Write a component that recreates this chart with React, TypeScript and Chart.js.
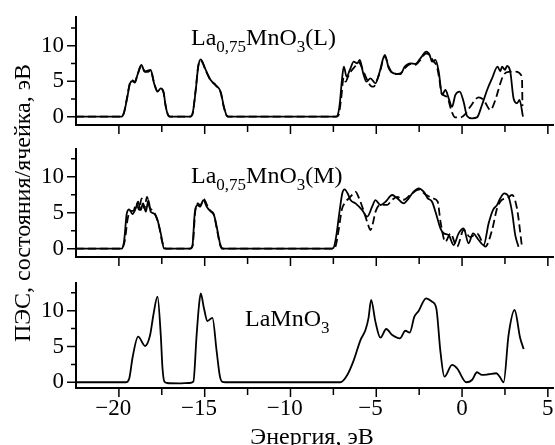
import React, { useEffect, useRef } from "react";
import { Chart, registerables } from "chart.js";
Chart.register(...registerables);

const FONT = "'Liberation Serif', 'Times New Roman', serif";

// ---- axes ----
const xMin = -22.5;
const xMax = 5.3;
const xMajorTicks = [-20, -15, -10, -5, 0, 5];
const xAllTicks = [-20, -17.5, -15, -12.5, -10, -7.5, -5, -2.5, 0, 2.5, 5];
const yMajorTicks = [0, 5, 10];
const yAllTicks = [0, 2.5, 5, 7.5, 10, 12.5];

// ---- panel 1: La0,75MnO3(L) ----
const lSolidE = [-22.5, -19.85, -19.7, -19.54, -19.35, -19.21, -19.07, -18.92, -18.69, -18.49, -18.34, -18.15, -17.95, -17.75, -17.56, -17.4, -17.27, -17.1, -16.95,
  -15.85, -15.72, -15.52, -15.38, -15.23, -14.94, -14.65, -14.36, -14.07, -13.88, -13.7, -13.55,
  -7.35, -7.25, -7.12, -7.0, -6.89, -6.73, -6.54, -6.31, -6.11, -5.96, -5.76, -5.57, -5.34, -5.05, -4.8, -4.5, -4.27, -3.98, -3.59, -3.34, -3.01, -2.72, -2.43, -2.08, -1.89, -1.75, -1.55, -1.36, -1.16, -0.97, -0.78, -0.58, -0.39, -0.14, 0.09, 0.29, 0.58, 0.87, 1.16, 1.46, 1.75, 2.07, 2.23, 2.33, 2.5, 2.62, 2.81, 3.0, 3.2, 3.35, 3.55];
const lSolidV = [0, 0, 0.6, 2.35, 4.7, 5.03, 4.8, 5.87, 7.28, 6.34, 6.48, 6.58, 4.7, 3.52, 4.0, 3.52, 1.41, 0.1, 0,
  0, 0.3, 3.76, 7.0, 8.08, 6.58, 5.17, 4.46, 3.52, 1.41, 0.1, 0,
  0, 0.2, 2.0, 5.2, 7.04, 5.63, 6.58, 7.75, 7.52, 7.99, 6.1, 4.93, 5.4, 4.7, 6.34, 8.69, 6.81, 6.1, 6.0, 7.04, 7.52, 7.42, 8.22, 9.15, 8.69, 7.75, 7.99, 6.34, 3.06, 3.76, 2.59, 1.41, 3.06, 3.52, 2.11, 0.1, -0.23, -0.1, 1.65, 3.76, 5.4, 7.04, 6.4, 7.04, 6.6, 7.14, 6.34, 2.59, 1.89, 2.35, 0];
const lDashE = [-22.5, -19.85, -19.7, -19.54, -19.35, -19.21, -19.07, -18.92, -18.7, -18.5, -18.34, -18.15, -17.95, -17.75, -17.56, -17.4, -17.27, -17.1, -16.95,
  -15.85, -15.72, -15.52, -15.38, -15.23, -14.94, -14.65, -14.36, -14.07, -13.88, -13.7, -13.55,
  -7.35, -7.2, -7.05, -6.9, -6.79, -6.65, -6.5, -6.3, -6.0, -5.82, -5.53, -5.3, -5.15, -4.95, -4.8, -4.5, -4.27, -3.98, -3.59, -3.34, -3.01, -2.72, -2.43, -2.1, -1.89, -1.7, -1.46, -1.3, -1.2, -0.88, -0.6, -0.4, -0.1, 0.2, 0.48, 0.97, 1.26, 1.65, 1.94, 2.23, 2.42, 2.7, 3.1, 3.49, 3.52];
const lDashV = [0, 0, 0.6, 2.5, 4.8, 5.1, 4.9, 5.9, 7.1, 6.4, 6.3, 6.5, 4.8, 3.6, 3.9, 3.4, 1.5, 0.1, 0,
  0, 0.3, 3.9, 7.1, 7.9, 6.5, 5.1, 4.4, 3.4, 1.3, 0.1, 0,
  0, 0.2, 2.5, 5.5, 4.93, 5.6, 6.3, 6.9, 7.6, 6.81, 5.17, 4.3, 4.23, 5.2, 6.2, 8.5, 7.0, 6.0, 6.1, 6.8, 7.4, 7.3, 8.0, 8.9, 8.7, 7.9, 7.0, 4.9, 3.3, 2.8, 0.7, -0.1, -0.1, 0.4, 1.41, 2.73, 2.35, 0.94, 2.35, 4.7, 5.87, 6.3, 6.34, 5.63, 1.5];

// ---- panel 2: La0,75MnO3(M) ----
const mSolidE = [-22.5, -19.85, -19.7, -19.54, -19.4, -19.21, -19.02, -18.88, -18.73, -18.59, -18.43, -18.28, -18.15, -17.95, -17.75, -17.56, -17.37, -17.2,
  -15.85, -15.72, -15.58, -15.42, -15.27, -15.08, -14.88, -14.69, -14.49, -14.3, -14.11, -13.98, -13.8,
  -7.7, -7.5, -7.35, -7.15, -6.98, -6.85, -6.65, -6.5, -6.21, -5.82, -5.53, -5.24, -5.05, -4.76, -4.46, -4.07, -3.78, -3.4, -3.11, -2.82, -2.53, -2.24, -2.0, -1.75, -1.55, -1.26, -1.07, -0.78, -0.49, -0.2, 0.09, 0.38, 0.64, 0.97, 1.26, 1.55, 1.8, 2.04, 2.23, 2.46, 2.71, 2.91, 3.1, 3.29];
const mSolidV = [0, 0, 1.0, 4.9, 5.47, 4.82, 5.6, 6.53, 5.37, 6.3, 5.14, 6.76, 5.14, 4.9, 3.99, 2.13, 0.05, 0,
  0, 0.3, 4.9, 6.07, 5.84, 6.76, 5.84, 5.28, 4.9, 3.06, 0.75, 0.05, 0,
  0, 0.1, 1.5, 5.0, 7.7, 8.25, 7.6, 6.76, 6.3, 5.37, 4.45, 5.84, 6.76, 6.07, 6.53, 7.46, 7.0, 6.3, 7.0, 7.92, 8.38, 7.92, 7.0, 6.53, 5.14, 2.83, 2.13, 1.9, 0.51, 2.13, 2.83, 0.75, 2.13, 1.21, 0.51, 3.53, 5.37, 6.07, 7.0, 7.69, 7.22, 5.14, 1.9, 0.28];
const mDashE = [-22.5, -19.85, -19.65, -19.5, -19.35, -19.15, -18.98, -18.82, -18.68, -18.52, -18.36, -18.22, -18.05, -17.85, -17.65, -17.48, -17.3, -17.15,
  -15.85, -15.7, -15.55, -15.4, -15.25, -15.05, -14.85, -14.65, -14.45, -14.28, -14.1, -13.95, -13.8,
  -7.6, -7.4, -7.2, -7.0, -6.85, -6.6, -6.35, -6.21, -6.0, -5.7, -5.5, -5.34, -5.2, -5.05, -4.76, -4.36, -4.07, -3.78, -3.4, -3.0, -2.53, -2.1, -1.7, -1.42, -1.26, -0.97, -0.68, -0.29, 0.09, 0.48, 0.87, 1.36, 1.75, 2.04, 2.33, 2.62, 2.91, 3.2, 3.49];
const mDashV = [0, 0, 1.2, 4.0, 5.2, 5.3, 6.3, 5.4, 7.0, 5.6, 7.2, 5.8, 5.3, 4.6, 3.0, 1.0, 0.05, 0,
  0, 0.5, 5.2, 6.3, 6.0, 6.9, 6.0, 5.2, 4.6, 2.6, 0.5, 0, 0,
  0, 0.2, 2.5, 5.5, 6.3, 7.0, 7.6, 7.9, 7.0, 5.0, 3.5, 2.6, 3.5, 5.1, 6.1, 6.1, 6.8, 7.2, 6.8, 7.5, 8.2, 7.5, 7.0, 6.53, 3.8, 0.97, 2.1, 0.28, 2.6, 1.6, 2.1, 0.3, 2.6, 5.6, 6.8, 7.0, 7.46, 5.6, 0.28];

// ---- panel 3: LaMnO3 ----
const laE = [-22.5, -19.6, -19.4, -19.2, -18.88, -18.47, -18.18, -17.99, -17.75, -17.56, -17.46, -17.35, -17.2, -16.5, -15.9, -15.66, -15.47, -15.33, -15.23, -15.04, -14.84, -14.55, -14.3, -14.11, -13.97, -13.8,
  -10, -7.1, -6.69, -6.31, -5.92, -5.63, -5.45, -5.3, -5.05, -4.76, -4.42, -4.07, -3.63, -3.3, -3.05, -2.78, -2.53, -2.1, -1.75, -1.5, -1.26, -1.03, -0.58, -0.29, 0.25, 0.58, 0.87, 1.16, 1.55, 2.0, 2.19, 2.42, 2.71, 3.06, 3.39, 3.59];
const laV = [0, 0, 0.5, 3.5, 6.37, 5.07, 6.6, 9.4, 11.96, 6.6, 2.0, 0.1, -0.1, -0.15, -0.1, 0.1, 6.6, 10.8, 12.4, 10.3, 8.56, 9.0, 4.27, 0.78, 0.05, 0,
  0, 0, 1.02, 3.1, 5.9, 7.3, 9.0, 11.5, 8.47, 6.23, 7.44, 6.6, 6.14, 7.2, 6.93, 9.16, 9.96, 11.73, 11.26, 10.33, 4.27, 0.78, 2.42, 1.95, 0, 0.32, 1.4, 1.02, 1.12, 1.26, 0.78, 0, 6.6, 10.1, 6.14, 4.65];

type Series = { e: number[]; v: number[]; dashed: boolean };
type Panel = { series: Series[]; yMin: number; yMax: number; padTop: number; xAxisH: number; showX: boolean };

const panels: Panel[] = [
  { series: [{ e: lDashE, v: lDashV, dashed: true }, { e: lSolidE, v: lSolidV, dashed: false }], yMin: -1.17, yMax: 14.04, padTop: 17, xAxisH: 15, showX: false },
  { series: [{ e: mDashE, v: mDashV, dashed: true }, { e: mSolidE, v: mSolidV, dashed: false }], yMin: -1.15, yMax: 13.85, padTop: 9, xAxisH: 13, showX: false },
  { series: [{ e: laE, v: laV, dashed: false }], yMin: -0.8, yMax: 13.87, padTop: 13, xAxisH: 57, showX: true },
];

const tickPlugin = {
  id: "tickMarks",
  afterDraw(chart: any) {
    const { ctx, chartArea, scales } = chart;
    ctx.save();
    ctx.strokeStyle = "#000";
    ctx.lineWidth = 1.5;
    ctx.beginPath();
    for (const v of xAllTicks) {
      const p = scales.x.getPixelForValue(v);
      const len = xMajorTicks.includes(v) ? 9 : 7;
      ctx.moveTo(p, chartArea.bottom);
      ctx.lineTo(p, chartArea.bottom + len);
    }
    for (const v of yAllTicks) {
      const p = scales.y.getPixelForValue(v);
      const len = yMajorTicks.includes(v) ? 9 : 5;
      ctx.moveTo(chartArea.left, p);
      ctx.lineTo(chartArea.left - len, p);
    }
    ctx.stroke();
    ctx.restore();
  },
};

function build(canvas: HTMLCanvasElement, p: Panel) {
  return new Chart(canvas, {
    type: "line",
    data: {
      datasets: p.series.map((s) => ({
        data: s.e.map((x, i) => ({ x, y: s.v[i] })),
        borderColor: "#000",
        borderWidth: 1.8,
        borderDash: s.dashed ? [8, 4] : [],
        pointRadius: 0,
        fill: false,
        cubicInterpolationMode: "monotone" as const,
      })),
    },
    options: {
      animation: false,
      responsive: false,
      devicePixelRatio: 1,
      layout: { padding: { top: p.padTop, right: 2, left: 0, bottom: 0 } },
      plugins: { legend: { display: false }, tooltip: { enabled: false }, title: { display: false } },
      events: [],
      scales: {
        x: {
          type: "linear",
          min: xMin,
          max: xMax,
          grid: { display: false, drawTicks: false },
          border: { display: true, color: "#000", width: 2 },
          ticks: {
            display: p.showX,
            autoSkip: false,
            maxRotation: 0,
            padding: 7,
            color: "#000",
            font: { family: FONT, size: 23 },
            callback: (v: any) => (v < 0 ? "\u2212" + Math.abs(v) + "\u2007" : String(v)),
          },
          afterBuildTicks: (s: any) => {
            s.ticks = xMajorTicks.map((value) => ({ value }));
          },
          afterFit: (s: any) => {
            s.height = p.xAxisH;
            s.paddingLeft = 0;
            s.paddingRight = 0;
          },
        },
        y: {
          type: "linear",
          min: p.yMin,
          max: p.yMax,
          grid: { display: false, drawTicks: false },
          border: { display: true, color: "#000", width: 2 },
          ticks: {
            padding: 12,
            color: "#000",
            font: { family: FONT, size: 23 },
            callback: (v: any) => String(v),
          },
          afterBuildTicks: (s: any) => {
            s.ticks = yMajorTicks.map((value) => ({ value }));
          },
          afterFit: (s: any) => {
            s.width = 76;
            s.paddingTop = 0;
            s.paddingBottom = 0;
          },
        },
      },
    },
    plugins: [tickPlugin],
  } as any);
}

const labelStyle = (left: number, top: number): React.CSSProperties => ({
  position: "absolute",
  left,
  top,
  fontFamily: FONT,
  fontSize: 24,
  lineHeight: "24px",
  whiteSpace: "nowrap",
  color: "#000",
});
const subStyle: React.CSSProperties = { fontSize: 17, position: "relative", top: 7 };

export default function App() {
  const r1 = useRef<HTMLCanvasElement>(null);
  const r2 = useRef<HTMLCanvasElement>(null);
  const r3 = useRef<HTMLCanvasElement>(null);

  useEffect(() => {
    const charts = [build(r1.current!, panels[0]), build(r2.current!, panels[1]), build(r3.current!, panels[2])];
    return () => charts.forEach((c) => c.destroy());
  }, []);

  return (
    <div style={{ position: "absolute", left: 0, top: 0, width: 555, height: 445, overflow: "hidden", background: "#fff" }}>
      <canvas ref={r1} width={555} height={140} style={{ position: "absolute", left: 0, top: 0 }} />
      <canvas ref={r2} width={555} height={130} style={{ position: "absolute", left: 0, top: 140 }} />
      <canvas ref={r3} width={555} height={175} style={{ position: "absolute", left: 0, top: 270 }} />

      <div style={labelStyle(191, 25)}>
        La<span style={subStyle}>0,75</span>MnO<span style={subStyle}>3</span>(L)
      </div>
      <div style={labelStyle(191, 163)}>
        La<span style={subStyle}>0,75</span>MnO<span style={subStyle}>3</span>(M)
      </div>
      <div style={labelStyle(245, 306)}>
        LaMnO<span style={subStyle}>3</span>
      </div>

      <div
        style={{
          position: "absolute",
          left: 312 - 150,
          top: 424,
          width: 300,
          textAlign: "center",
          fontFamily: FONT,
          fontSize: 24,
          lineHeight: "24px",
          whiteSpace: "nowrap",
        }}
      >
        Энергия, эВ
      </div>
      <div
        style={{
          position: "absolute",
          left: 22 - 170,
          top: 203 - 12,
          width: 340,
          height: 24,
          textAlign: "center",
          fontFamily: FONT,
          fontSize: 24,
          lineHeight: "24px",
          whiteSpace: "nowrap",
          transform: "rotate(-90deg)",
          transformOrigin: "50% 50%",
        }}
      >
        ПЭС, состояния/ячейка, эВ
      </div>
    </div>
  );
}
